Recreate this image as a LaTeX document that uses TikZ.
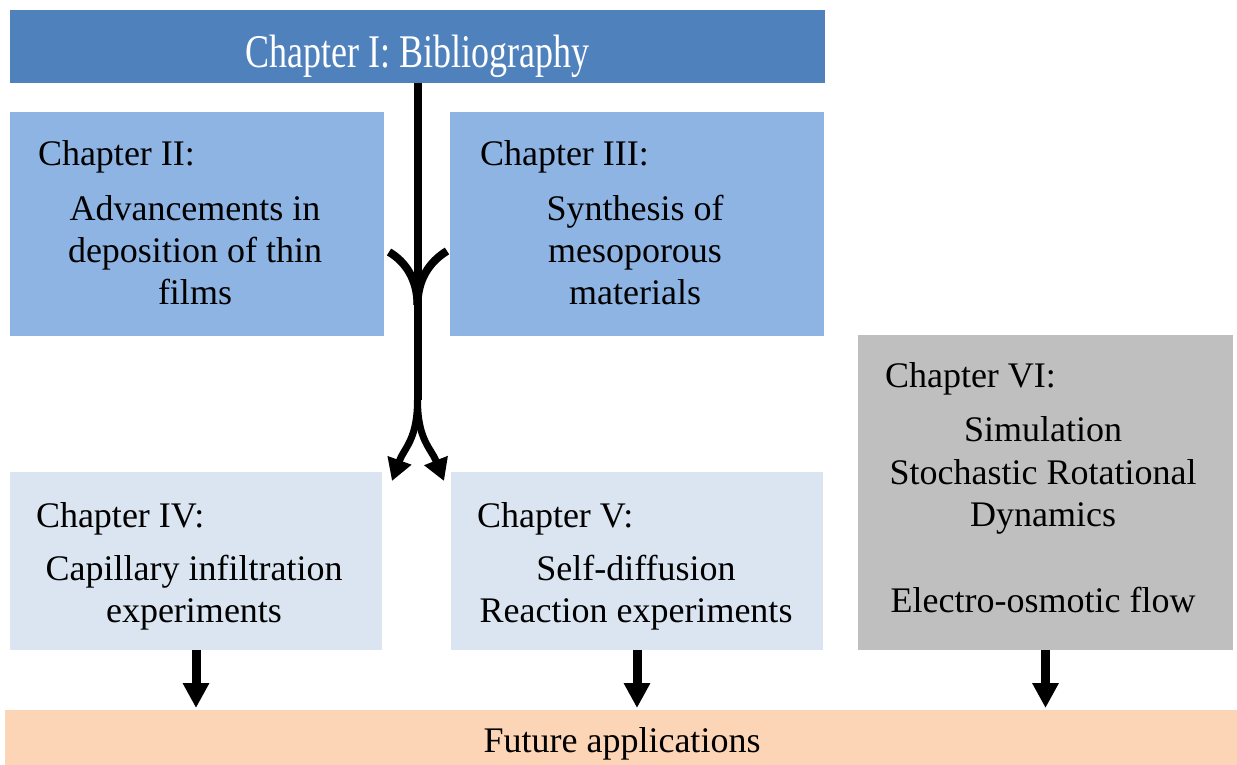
\documentclass[tikz,border=0pt]{standalone}
\usepackage{fontspec}
\usepackage{graphicx}
\setmainfont{Liberation Serif}
\usetikzlibrary{arrows.meta}
\definecolor{topcol}{HTML}{4F81BD}
\definecolor{midcol}{HTML}{8EB4E3}
\definecolor{lowcol}{HTML}{DBE5F1}
\definecolor{simcol}{HTML}{BFBFBF}
\definecolor{futcol}{HTML}{FBD5B5}
\tikzset{
  box/.style={rectangle, inner sep=0pt, outer sep=0pt, anchor=north west},
  txt/.style={inner sep=0pt, outer sep=0pt, font=\fontsize{36}{42}\selectfont, text=black},
  downarrow/.style={line width=9pt, -{Triangle[width=25pt,length=25pt]}, shorten >=2pt},
  curvearrow/.style={line width=7pt, -{Triangle[width=24pt,length=22pt]}},
  curveline/.style={line width=8pt}
}
\begin{document}
\begin{tikzpicture}[x=1pt,y=-1pt]
\useasboundingbox (0,0) rectangle (1237,765);
% boxes
\node[box, fill=topcol, minimum width=815, minimum height=73] (c1) at (10,10) {};
\node[box, fill=midcol, minimum width=374, minimum height=224] (c2) at (10,112) {};
\node[box, fill=midcol, minimum width=374, minimum height=224] (c3) at (450,112) {};
\node[box, fill=simcol, minimum width=375, minimum height=315] (c6) at (858,335) {};
\node[box, fill=lowcol, minimum width=372, minimum height=178] (c4) at (10,472) {};
\node[box, fill=lowcol, minimum width=372, minimum height=178] (c5) at (451,472) {};
\node[box, fill=futcol, minimum width=1232, minimum height=60] (fut) at (5,710) {};
% texts
\node[txt, text=white, anchor=base] (t1) at (417.5,68) {\scalebox{1}[1.3]{Chapter I: Bibliography}};
\node[txt, anchor=base west] (t2a) at (38,165) {Chapter II:};
\node[txt, anchor=base] (t2b) at (195,220) {Advancements in};
\node[txt, anchor=base] (t2c) at (195,262) {deposition of thin};
\node[txt, anchor=base] (t2d) at (195,304) {films};
\node[txt, anchor=base west] (t3a) at (480,165) {Chapter III:};
\node[txt, anchor=base] (t3b) at (635,220) {Synthesis of};
\node[txt, anchor=base] (t3c) at (635,262) {mesoporous};
\node[txt, anchor=base] (t3d) at (635,304) {materials};
\node[txt, anchor=base west] (t4a) at (36,527) {Chapter IV:};
\node[txt, anchor=base] (t4b) at (194,580) {Capillary infiltration};
\node[txt, anchor=base] (t4c) at (194,622) {experiments};
\node[txt, anchor=base west] (t5a) at (477,527) {Chapter V:};
\node[txt, anchor=base] (t5b) at (636,580) {Self-diffusion};
\node[txt, anchor=base] (t5c) at (636,622) {Reaction experiments};
\node[txt, anchor=base west] (t6a) at (885,387) {Chapter VI:};
\node[txt, anchor=base] (t6b) at (1043,441) {Simulation};
\node[txt, anchor=base] (t6c) at (1043,484) {Stochastic Rotational};
\node[txt, anchor=base] (t6d) at (1043,526) {Dynamics};
\node[txt, anchor=base] (t6e) at (1043,612) {Electro-osmotic flow};
\node[txt, anchor=base] (tf) at (622,752) {Future applications};
% central merging / splitting arrow
\coordinate (split) at (417.5,400);
\coordinate (merge) at (417.5,305);
\coordinate (inL) at (389,252);
\coordinate (inR) at (447,251);
\coordinate (tipL) at (392,481);
\coordinate (tipR) at (444,481);
\draw[line width=8pt] (c1.south) -- (split);
\draw[curveline] (inL) .. controls (406,262) and (417.5,280) .. (merge);
\draw[curveline] (inR) .. controls (429,262) and (417.5,280) .. (merge);
\draw[curvearrow] (split) .. controls (417.5,440) and (404,448) .. (tipL);
\draw[curvearrow] (split) .. controls (417.5,440) and (431,448) .. (tipR);
% arrows to future applications
\draw[downarrow] (c4.south) -- (c4.south |- fut.north);
\draw[downarrow] (c5.south) -- (c5.south |- fut.north);
\draw[downarrow] (c6.south) -- (c6.south |- fut.north);
\end{tikzpicture}
\end{document}
